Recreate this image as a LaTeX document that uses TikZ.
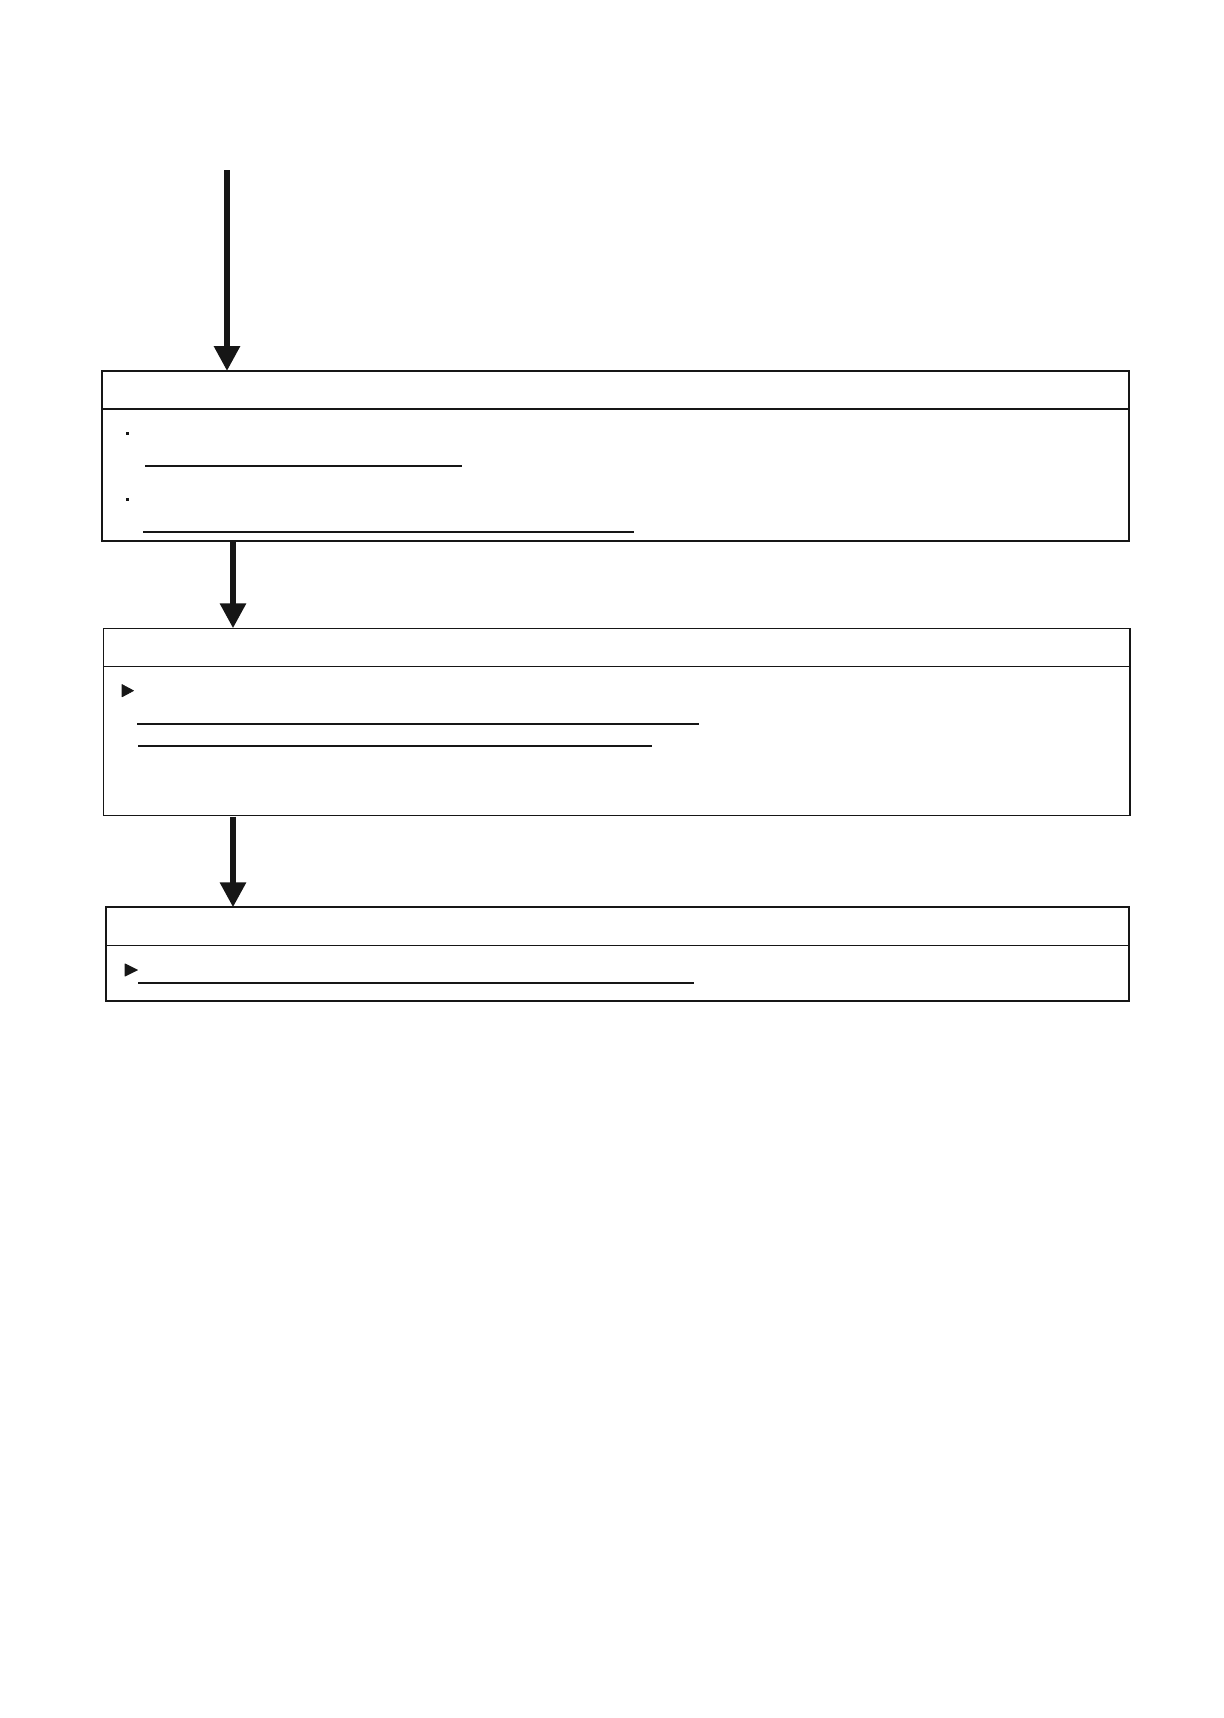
\documentclass[tikz,border=0pt]{standalone}
\usetikzlibrary{arrows.meta}
\definecolor{ink}{HTML}{161616}
\tikzset{
  panel/.style={draw=ink, rectangle, inner sep=0pt, outer sep=0pt, anchor=north west},
  flow/.style={draw=ink, line width=3pt, -{Triangle[length=12.5pt,width=12.5pt]}},
  rule/.style={draw=ink, line width=0.65pt},
  boldrule/.style={draw=ink, line width=1pt},
  sqbullet/.style={fill=ink},
  tribullet/.style={fill=ink, draw=ink, line width=0.3pt, line join=round}
}
\begin{document}
\begin{tikzpicture}[x=0.5pt,y=-0.5pt]
\useasboundingbox (0,0) rectangle (1224,1718);
% boxes
\node[panel, line width=1pt, minimum width=513.6pt, minimum height=84.9pt] (b1) at (101.8,371) {};
\node[panel, line width=0.75pt, minimum width=513.2pt, minimum height=93.5pt] (b2) at (103.7,628.3) {};
\node[panel, line width=1pt, minimum width=511.6pt, minimum height=46.7pt] (b3) at (105.9,907.3) {};
% header dividers
\draw[ink, line width=1pt] (b1.west |- 0,408.6) -- (b1.east |- 0,408.6);
\draw[ink, line width=0.7pt] (b2.west |- 0,666.7) -- (b2.east |- 0,666.7);
\draw[ink, line width=0.7pt] (b3.west |- 0,945.4) -- (b3.east |- 0,945.4);
% arrows
\coordinate (start) at (227,170);
\draw[flow] (start) -- (start |- b1.north);
\draw[flow] (b1.south -| 233,0) -- (b2.north -| 233,0);
\draw[flow] ([yshift=-0.7pt]b2.south -| 233,0) -- (b3.north -| 233,0);
% box 1 content
\fill[sqbullet] (125.5,432.2) rectangle (128.5,435.2);
\fill[sqbullet] (125.5,497.8) rectangle (128.5,500.8);
\draw[rule] (145,466) -- (462,466);
\draw[rule] (143,532) -- (634,532);
% box 2 content
\filldraw[tribullet] (122,684.5) -- (133.5,690.7) -- (122,696.9) -- cycle;
\draw[boldrule] (137,723.7) -- (699,723.7);
\draw[boldrule] (138,746) -- (652,746);
% box 3 content
\filldraw[tribullet] (125,963.8) -- (137.5,970) -- (125,976.2) -- cycle;
\draw[boldrule] (138,982.7) -- (694,982.7);
\end{tikzpicture}
\end{document}
